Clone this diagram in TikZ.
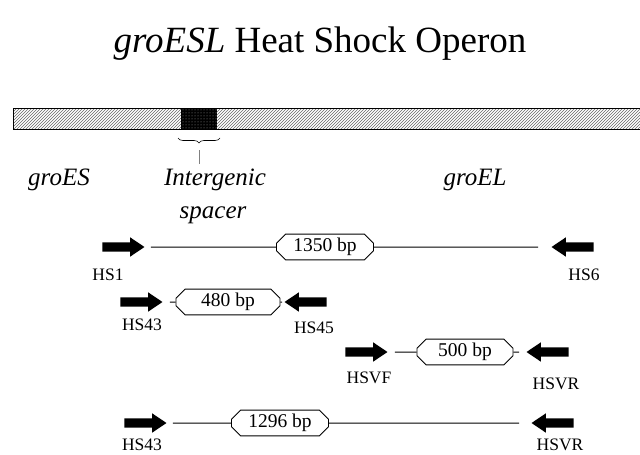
\documentclass[tikz,border=0pt]{standalone}
\usepackage{fontspec}
\setmainfont{Liberation Serif}
\usetikzlibrary{
  arrows.meta, positioning, shapes.arrows, shapes.misc,
  patterns, decorations.pathreplacing
}
\tikzset{
  primer/.style={
    single arrow, fill=black, draw=none, inner sep=0pt, inner ysep=4.5pt,
    minimum height=42pt, single arrow head extend=5pt,
    single arrow tip angle=68
  },
  rprimer/.style={primer, shape border rotate=180},
  plabel/.style={font=\fontsize{17.5}{20}\selectfont, inner sep=0pt, anchor=base},
  amplicon/.style={
    chamfered rectangle, chamfered rectangle xsep=6pt,
    draw=black, line width=0.9pt, fill=white,
    minimum height=23pt, inner sep=1pt,
    font=\fontsize{19.5}{21}\selectfont
  },
  dna/.style={line width=1pt, draw=black},
  gene/.style={font=\fontsize{25}{27}\selectfont\itshape, inner sep=0pt, anchor=base}
}

\begin{document}
\begin{tikzpicture}[x=1pt, y=-1pt]
  \useasboundingbox (0,0) rectangle (640,455);

  % title
  \node[font=\fontsize{37}{40}\selectfont, inner sep=0pt, anchor=base] (title)
    at (320,52) {\textit{groESL} Heat Shock Operon};

  % operon bar
  \path[fill=gray!15, pattern=north east lines, pattern color=black!60]
    (13,108) rectangle (640,129);
  \fill[black] (181,108) rectangle (217,129);
  \fill[pattern=dots, pattern color=gray!80] (181,108) rectangle (217,129);
  \draw[line width=0.9pt] (13,108) rectangle (640,129);

  \coordinate (braceL) at (178,138);
  \coordinate (braceR) at (220,138);
  \draw[decorate, decoration={brace, mirror, amplitude=5pt}, line width=0.6pt]
    (braceL) -- (braceR);
  \coordinate (tickA) at (199,150);
  \coordinate (tickB) at (199,164);
  \draw[line width=0.6pt, gray] (tickA) -- (tickB);

  \node[gene, anchor=base west] (groes) at (28,185) {groES};
  \node[gene] (inter) at (215,185) {Intergenic};
  \node[gene] (spacer) at (213,218) {spacer};
  \node[gene] (groel) at (475,185) {groEL};

  % HS1 / HS6
  \node[amplicon, minimum width=97pt] (b1350) at (325,247) {1350 bp};
  \node[primer] (hs1) at (120,247) {};
  \node[rprimer] (hs6) at (576,247) {};
  \draw[dna, shorten <=6pt] (hs1) -- (b1350);
  \draw[dna, shorten >=13pt] (b1350) -- (hs6);
  \node[plabel] (hs1l) at (108,280) {HS1};
  \node[plabel] (hs6l) at (584,280) {HS6};

  % HS43 / HS45
  \node[amplicon, minimum width=104pt] (b480) at (228,302) {480 bp};
  \node[primer] (hs43a) at (138,302) {};
  \node[rprimer] (hs45) at (309,302) {};
  \draw[dna, shorten <=7pt] (hs43a) -- (b480);
  \draw[dna, shorten >=2pt] (b480) -- (hs45);
  \node[plabel] (hs43al) at (142,330) {HS43};
  \node[plabel] (hs45l) at (314,333) {HS45};

  % HSVF / HSVR
  \node[amplicon, minimum width=96pt] (b500) at (465,352) {500 bp};
  \node[primer] (hsvf) at (363,352) {};
  \node[rprimer] (hsvra) at (551,352) {};
  \draw[dna, shorten <=7pt] (hsvf) -- (b500);
  \draw[dna, shorten >=7pt] (b500) -- (hsvra);
  \node[plabel] (hsvfl) at (369,383) {HSVF};
  \node[plabel] (hsvral) at (556,389) {HSVR};

  % HS43 / HSVR
  \node[amplicon, minimum width=97pt] (b1296) at (280,423) {1296 bp};
  \node[primer] (hs43b) at (142,423) {};
  \node[rprimer] (hsvrb) at (556,423) {};
  \draw[dna, shorten <=6pt] (hs43b) -- (b1296);
  \draw[dna, shorten >=12pt] (b1296) -- (hsvrb);
  \node[plabel] (hs43bl) at (142,450) {HS43};
  \node[plabel] (hsvrbl) at (560,450) {HSVR};
\end{tikzpicture}
\end{document}
